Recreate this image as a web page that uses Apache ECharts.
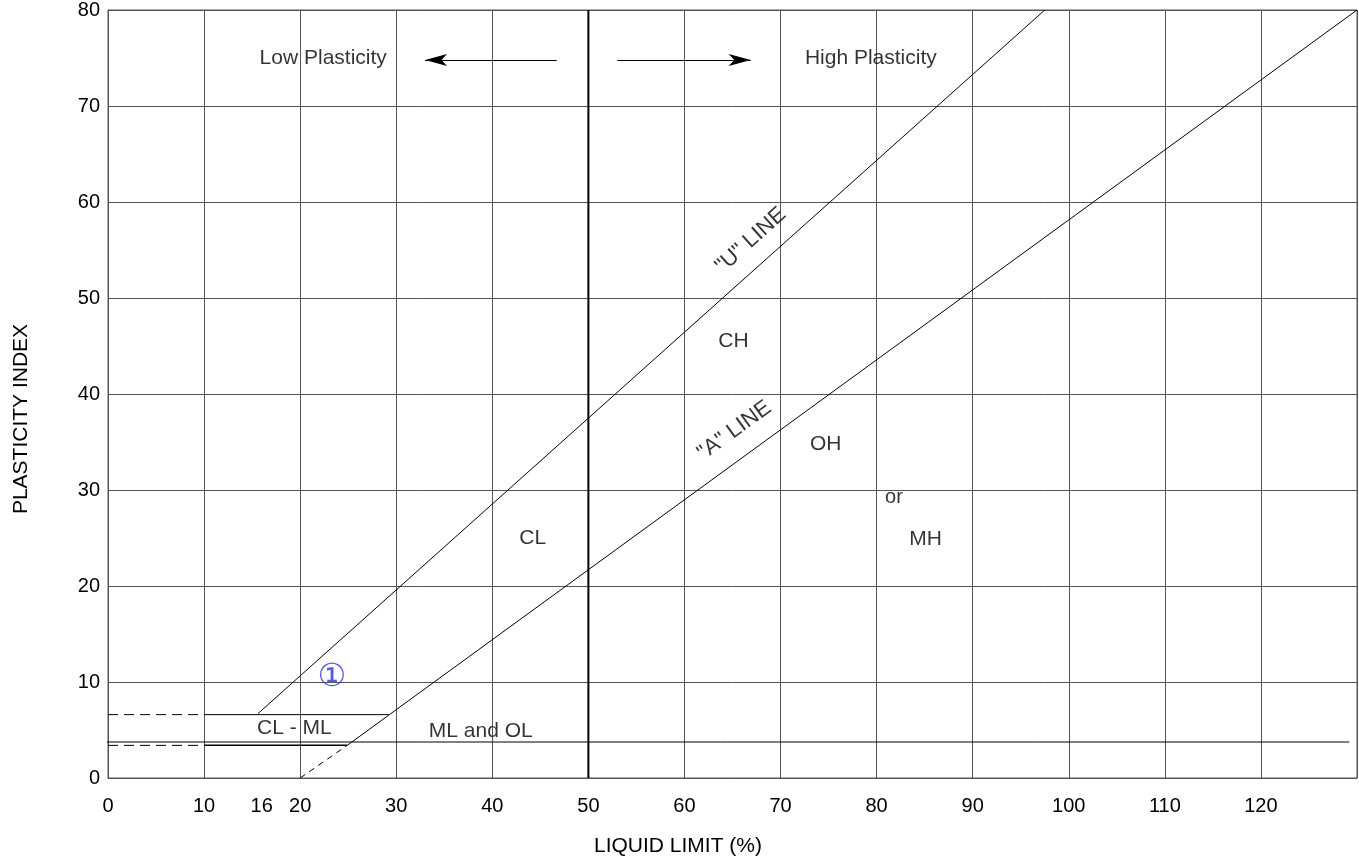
<!DOCTYPE html>
<html>
<head>
<meta charset="utf-8">
<script src="https://cdn.jsdelivr.net/npm/echarts@6/dist/echarts.min.js"></script>
<style>
  html, body { margin: 0; padding: 0; background: #fff; }
  #chart { width: 1359px; height: 865px; }
</style>
</head>
<body>
<div id="chart"></div>
<script>
// axis ticks
const xTickLabels = [0, 10, 16, 20, 30, 40, 50, 60, 70, 80, 90, 100, 110, 120];

// chart lines (liquid limit, plasticity index)
const uLine = [[15.6, 6.7], [97.5, 80]];
const aLineDashed = [[20, 0], [24.9, 3.4]];
const aLine = [[24.9, 3.4], [130, 80]];
const bandTopDashed = [[0, 6.6], [10, 6.6]];
const bandTopSolid = [[10, 6.6], [29.2, 6.6]];
const bandBottomDashed = [[0, 3.4], [10, 3.4]];
const bandBottomSolid = [[10, 3.4], [24.9, 3.4]];
const boundaryLine = [[-0.8, 3.75], [129.2, 3.75]];
const divideLine = [[50, 0], [50, 80]];

// arrows: [from, to]
const arrowLow = [[46.7, 74.8], [33.0, 74.8]];
const arrowHigh = [[53.0, 74.8], [66.9, 74.8]];

// zone labels: [x, y, text, rotate, fontSize]
const zoneLabels = [
    [22.4, 75.0, 'Low Plasticity', 0, 21],
    [79.4, 75.0, 'High Plasticity', 0, 21],
    [66.9, 56.0, '"U" LINE', 42, 22],
    [65.2, 36.2, '"A" LINE', 36, 22],
    [65.1, 45.5, 'CH', 0, 21],
    [74.7, 34.8, 'OH', 0, 21],
    [81.8, 29.2, 'or', 0, 20],
    [85.1, 24.9, 'MH', 0, 21],
    [44.2, 25.0, 'CL', 0, 21],
    [19.4, 5.2, 'CL - ML', 0, 21],
    [38.8, 4.9, 'ML and OL', 0, 21]
];
const markerLabel = [23.3, 10.4, '\u2460'];

function lineSeries(data, width, type, clip)
{
    return {
        type: 'line',
        data: data,
        symbol: 'none',
        silent: true,
        clip: clip !== false,
        lineStyle: { color: '#000', width: width, type: type || 'solid' },
        z: 5
    };
}

function arrowSeries(pair)
{
    return {
        type: 'line',
        data: [],
        silent: true,
        markLine: {
            silent: true,
            symbol: ['none', 'arrow'],
            symbolSize: [9, 22],
            label: { show: false },
            lineStyle: { color: '#000', width: 1, type: 'solid' },
            data: [[{ coord: pair[0] }, { coord: pair[1] }]]
        }
    };
}

const font = 'Liberation Sans, Arial, sans-serif';

const chart = echarts.init(document.getElementById('chart'), null, { renderer: 'canvas' });

chart.setOption({
    animation: false,
    backgroundColor: '#fff',
    grid: {
        left: 108, right: 2, top: 10, bottom: 87,
        show: true, borderColor: '#555', borderWidth: 1
    },
    xAxis: {
        type: 'value',
        min: 0, max: 130, interval: 10,
        name: 'LIQUID LIMIT (%)',
        nameLocation: 'middle',
        nameGap: 58,
        nameTextStyle: { fontSize: 21, color: '#000', fontFamily: font, padding: [0, 109, 0, 0] },
        axisLine: { show: true, lineStyle: { color: '#555', width: 1 } },
        axisTick: { show: false },
        axisLabel: {
            customValues: xTickLabels,
            fontSize: 20, color: '#000', fontFamily: font, margin: 18
        },
        splitLine: { show: true, lineStyle: { color: '#555', width: 1 } }
    },
    yAxis: {
        type: 'value',
        min: 0, max: 80, interval: 10,
        name: 'PLASTICITY INDEX',
        nameLocation: 'middle',
        nameGap: 76,
        nameRotate: 90,
        nameTextStyle: { fontSize: 21, color: '#000', fontFamily: font, padding: [0, 50, 0, 0] },
        axisLine: { show: true, lineStyle: { color: '#555', width: 1 } },
        axisTick: { show: false },
        axisLabel: { fontSize: 20, color: '#000', fontFamily: font, margin: 8 },
        splitLine: { show: true, lineStyle: { color: '#555', width: 1 } }
    },
    series: [
        lineSeries(divideLine, 2),
        lineSeries(uLine, 1),
        lineSeries(aLine, 1),
        lineSeries(aLineDashed, 1, [6, 5]),
        lineSeries(bandTopDashed, 1, [10, 6]),
        lineSeries(bandTopSolid, 1),
        lineSeries(bandBottomDashed, 1, [10, 6]),
        lineSeries(bandBottomSolid, 1.5),
        lineSeries(boundaryLine, 1, 'solid', false),
        arrowSeries(arrowLow),
        arrowSeries(arrowHigh),
        {
            type: 'scatter',
            symbolSize: 0,
            silent: true,
            z: 10,
            data: zoneLabels.map((d) => ({
                value: [d[0], d[1]],
                label: {
                    show: true,
                    position: 'inside',
                    formatter: d[2],
                    rotate: d[3],
                    fontSize: d[4],
                    color: '#000',
                    fontFamily: font
                }
            }))
        },
        {
            type: 'scatter',
            symbolSize: 0,
            silent: true,
            z: 10,
            data: [{
                value: [markerLabel[0], markerLabel[1]],
                label: {
                    show: true,
                    position: 'inside',
                    formatter: markerLabel[2],
                    fontSize: 32,
                    color: '#2b2bff',
                    fontFamily: 'DejaVu Sans, sans-serif'
                }
            }]
        }
    ]
});
</script>
</body>
</html>
